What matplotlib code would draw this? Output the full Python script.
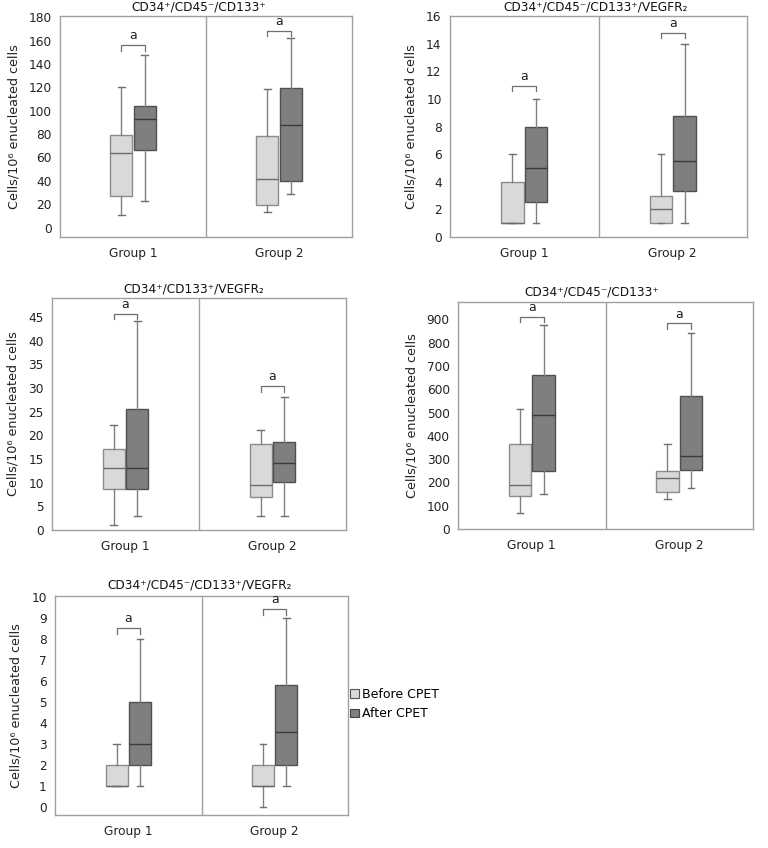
import matplotlib
matplotlib.use("Agg")
import matplotlib.pyplot as plt
from matplotlib.patches import Patch

plt.rcParams['font.family'] = ['DejaVu Sans']
plt.rcParams['mathtext.fontset'] = 'dejavusans'

groups = ["Group 1", "Group 2"]
series = ["Before CPET", "After CPET"]

titles = [
    "CD34\u207a/CD45\u207b/CD133\u207a",
    "CD34\u207a/CD45\u207b/CD133\u207a/VEGFR\u2082",
    "CD34\u207a/CD133\u207a/VEGFR\u2082",
    "CD34\u207a/CD45\u207b/CD133\u207a",
    "CD34\u207a/CD45\u207b/CD133\u207a/VEGFR\u2082",
]
ylabel = "Cells/10\u2076 enucleated cells"

# five-number summaries [whislo, q1, med, q3, whishi]; per panel: G1 before, G1 after, G2 before, G2 after
p1_stats = [[11, 27, 64, 79, 120], [23, 66, 93, 104, 148],
            [13.5, 19.5, 42, 78, 118.5], [29, 39.5, 88, 119, 162]]
p2_stats = [[1, 1, 1, 4, 6], [1, 2.5, 5, 8, 10],
            [1, 1, 2, 3, 6], [1, 3.3, 5.5, 8.75, 14]]
p3_stats = [[1, 8.6, 13.1, 17.1, 22.2], [3, 8.6, 13.1, 25.6, 44.1],
            [3, 7.0, 9.6, 18.1, 21.1], [3, 10.1, 14.1, 18.5, 28.1]]
p4_stats = [[70, 143, 187, 363, 514], [151, 249, 490, 660, 876],
            [130, 159, 220, 249, 367], [174, 253, 314, 570, 843]]
p5_stats = [[1, 1, 1, 2, 3], [1, 2, 3, 5, 8],
            [0, 1, 1, 2, 3], [1, 2, 3.55, 5.8, 9]]

# significance bracket heights (group 1, group 2)
p1_brackets = [156, 168.5]
p2_brackets = [10.95, 14.8]
p3_brackets = [45.7, 30.4]
p4_brackets = [911, 883]
p5_brackets = [8.5, 9.4]

all_stats = [p1_stats, p2_stats, p3_stats, p4_stats, p5_stats]
all_brackets = [p1_brackets, p2_brackets, p3_brackets, p4_brackets, p5_brackets]

ylims = [(-8, 181), (0, 16), (0, 49), (0, 975), (-0.4, 10.03)]
yticks = [list(range(0, 181, 20)), list(range(0, 17, 2)), list(range(0, 46, 5)),
          list(range(0, 901, 100)), list(range(0, 11, 1))]
bracket_drop = [5, 0.4, 1.2, 22, 0.28]
title_x = [0.476, 0.49, 0.483, 0.454, 0.495]

W, H = 768, 848
rects_px = [(60, 352, 16, 237), (450, 747, 16, 237), (52, 346, 298, 530),
            (458, 753, 302, 529), (55, 348, 596, 815)]
title_base_px = [11, 11, 293, 295, 589]

light_fill = "#d9d9d9"
dark_fill = "#7f7f7f"
frame_col = "#a0a0a0"

fig = plt.figure(figsize=(W / 100, H / 100), dpi=100)

offset = 0.08
bw = 0.15
for i in range(5):
    l, r, t, b = rects_px[i]
    ax = fig.add_axes([l / W, (H - b) / H, (r - l) / W, (b - t) / H])
    stats = all_stats[i]
    for j, s in enumerate(stats):
        g = j // 2
        k = j % 2
        pos = g + 1 + (-offset if k == 0 else offset)
        d = dict(whislo=s[0], q1=s[1], med=s[2], q3=s[3], whishi=s[4], fliers=[])
        fill = light_fill if k == 0 else dark_fill
        edge = "#8c8c8c" if k == 0 else "#505050"
        medc = "#6a6a6a" if k == 0 else "#3a3a3a"
        ax.bxp([d], positions=[pos], widths=bw, patch_artist=True, showfliers=False,
               boxprops=dict(facecolor=fill, edgecolor=edge, linewidth=1.0),
               medianprops=dict(color=medc, linewidth=1.0),
               whiskerprops=dict(color="#808080", linewidth=1.0),
               capprops=dict(color="#707070", linewidth=1.0),
               capwidths=0.045, manage_ticks=False)
    # brackets
    for g, yb in enumerate(all_brackets[i]):
        x0 = g + 1 - offset
        x1 = g + 1 + offset
        dd = bracket_drop[i]
        ax.plot([x0, x0, x1, x1], [yb - dd, yb, yb, yb - dd], color="#707070", lw=0.9)
        ax.text(g + 1, yb + dd * 0.5, "a", ha="center", va="bottom", fontsize=9, color="#222222")
    ax.axvline(1.5, color=frame_col, lw=1.0)
    ax.set_xlim(0.5, 2.5)
    ax.set_ylim(*ylims[i])
    ax.set_yticks(yticks[i])
    ax.set_xticks([1, 2])
    ax.set_xticklabels(groups)
    ax.tick_params(axis="both", length=0, labelsize=8.7, colors="#222222")
    ax.tick_params(axis="y", pad=6)
    ax.tick_params(axis="x", pad=7)
    for sp in ax.spines.values():
        sp.set_color(frame_col)
        sp.set_linewidth(1.0)
    ax.set_ylabel(ylabel, fontsize=9.2, color="#222222", labelpad=6)
    fig.text((l + title_x[i] * (r - l)) / W, 1 - title_base_px[i] / H, titles[i],
             ha="center", va="baseline", fontsize=8.7, color="#111111")

handles = [Patch(facecolor=light_fill, edgecolor="#555555", linewidth=0.8),
           Patch(facecolor=dark_fill, edgecolor="#444444", linewidth=0.8)]
fig.legend(handles, series, loc="upper left", bbox_to_anchor=(350 / W, 1 - 688 / H),
           frameon=False, fontsize=9, handlelength=0.7, handleheight=0.7,
           handletextpad=0.25, labelspacing=0.5, borderpad=0, borderaxespad=0)

fig.savefig("out.png", dpi=100)
